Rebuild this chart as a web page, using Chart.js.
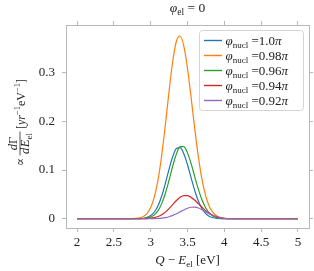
<!DOCTYPE html>
<html>
<head>
<meta charset="utf-8">
<script src="https://cdn.jsdelivr.net/npm/chart.js@4/dist/chart.umd.min.js"></script>
<style>
  html, body { margin: 0; padding: 0; background: #fff; overflow: hidden; }
  canvas { display: block; }
</style>
</head>
<body>
<canvas id="chart" width="314" height="271"></canvas>
<script>
// Q - E_el grid [eV]
const energies = [2.0, 2.6, 2.7, 2.75, 2.8, 2.85, 2.9, 2.95, 3.0, 3.05, 3.1, 3.15, 3.2, 3.25, 3.3, 3.35, 3.4, 3.45,
  3.5, 3.55, 3.6, 3.65, 3.7, 3.75, 3.8, 3.85, 3.9, 3.95, 4.0, 4.05, 4.1, 4.15, 4.2, 4.3, 5.0];

// dGamma/dE_el per phi_nucl
const rate100 = [0, 0, 0.00001, 0.00003, 0.0001, 0.0003, 0.0010, 0.0027, 0.0065, 0.0139, 0.0269, 0.0468, 0.0729, 0.1020,
  0.1280, 0.1442, 0.1459, 0.1336, 0.1110, 0.0836, 0.0571, 0.0354, 0.0199, 0.0101, 0.0047, 0.0020, 0.0008, 0.0003,
  0.0001, 0, 0, 0, 0, 0, 0];
const rate098 = [0, 0, 0.0001, 0.0002, 0.0006, 0.0018, 0.0046, 0.0107, 0.0230, 0.0450, 0.0802, 0.1305, 0.1937, 0.2623,
  0.3240, 0.3651, 0.3754, 0.3545, 0.3086, 0.2476, 0.1830, 0.1247, 0.0783, 0.0453, 0.0242, 0.0119, 0.0054, 0.0023,
  0.0009, 0.0003, 0.0001, 0, 0, 0, 0];
const rate096 = [0, 0, 0, 0.00001, 0.00004, 0.00015, 0.0005, 0.0014, 0.0035, 0.0080, 0.0167, 0.0311, 0.0523, 0.0793,
  0.1084, 0.1334, 0.1481, 0.1483, 0.1353, 0.1126, 0.0855, 0.0592, 0.0374, 0.0216, 0.0113, 0.0054, 0.0024, 0.00095,
  0.00035, 0.00012, 0.00004, 0, 0, 0, 0];
const rate094 = [0, 0, 0, 0.00001, 0.00002, 0.00006, 0.00017, 0.00045, 0.0011, 0.0023, 0.0045, 0.0082, 0.0136, 0.0208,
  0.0291, 0.0374, 0.0441, 0.0477, 0.0474, 0.0439, 0.0380, 0.0306, 0.0231, 0.0162, 0.0106, 0.0065, 0.0037, 0.0020,
  0.0010, 0.00045, 0.0002, 0.00008, 0.00003, 0, 0];
const rate092 = [0, 0, 0, 0, 0.00001, 0.00001, 0.00002, 0.00005, 0.00012, 0.00029, 0.00064, 0.0013, 0.0024, 0.0042,
  0.0069, 0.0102, 0.0142, 0.0181, 0.0215, 0.0236, 0.0239, 0.0221, 0.0185, 0.0141, 0.0097, 0.0061, 0.0035, 0.0018,
  0.0008, 0.00035, 0.00014, 0.00005, 0.00002, 0, 0];

const phiLabels = ['1.0', '0.98', '0.96', '0.94', '0.92'];
const xTicks = [2, 2.5, 3, 3.5, 4, 4.5, 5];
const yTicks = [0, 0.1, 0.2, 0.3];

const series = [rate100, rate098, rate096, rate094, rate092];
const colors = ['#1f77b4', '#ff7f0e', '#2ca02c', '#d62728', '#9467bd'];
const FONT = '"Liberation Serif", "DejaVu Serif", serif';
const FRAME = '#b8b8b8';
const INK = '#222';

function font(size, italic) {
  return (italic ? 'italic ' : '') + size + 'px ' + FONT;
}

// width of a list of text runs (sub/superscripts as separate runs)
function runsWidth(ctx, runs, base) {
  let w = 0;
  for (const r of runs) {
    ctx.font = font(r.s || base, r.i);
    w += ctx.measureText(r.t).width + (r.g || 0);
  }
  return w;
}

function drawRuns(ctx, x, y, runs, base) {
  for (const r of runs) {
    ctx.font = font(r.s || base, r.i);
    ctx.fillText(r.t, x, y + (r.dy || 0));
    x += ctx.measureText(r.t).width + (r.g || 0);
  }
  return x;
}

function drawCentered(ctx, cx, y, runs, base) {
  drawRuns(ctx, cx - runsWidth(ctx, runs, base) / 2, y, runs, base);
}

const mathText = {
  id: 'mathText',
  afterDraw(chart) {
    const ctx = chart.ctx;
    const area = chart.chartArea;
    const cx = (area.left + area.right) / 2;
    ctx.save();
    ctx.fillStyle = INK;
    ctx.textBaseline = 'alphabetic';
    ctx.textAlign = 'left';

    // title
    drawCentered(ctx, cx, 12, [{ t: '\u03c6', i: 1 }, { t: 'el', s: 9.5, dy: 3 }, { t: ' = 0' }], 13.5);

    // x label
    drawCentered(ctx, cx, 264, [{ t: 'Q', i: 1 }, { t: ' \u2212 ' }, { t: 'E', i: 1 }, { t: 'el', s: 9, dy: 3 }, { t: ' [eV]' }], 13);

    // y label, rotated; u runs upward along the axis, v to the right
    ctx.save();
    const midY = (area.top + area.bottom) / 2 - 4;
    ctx.translate(24.5, midY);
    ctx.rotate(-Math.PI / 2);
    const prop = [{ t: '\u221d' }];
    const num = [{ t: 'd', i: 1 }, { t: '\u0393' }];
    const den = [{ t: 'd', i: 1, g: 0.5 }, { t: 'E', i: 1 }, { t: 'el', s: 9, dy: 2.5 }];
    const unit = [{ t: '[' }, { t: 'yr', i: 1 }, { t: '\u22121', s: 8.5, dy: -5 }, { t: 'eV' }, { t: '\u22121', s: 8.5, dy: -5 }, { t: ']' }];
    const wp = runsWidth(ctx, prop, 12);
    const wn = runsWidth(ctx, num, 12.5);
    const wd = runsWidth(ctx, den, 12.5);
    const wf = Math.max(wn, wd) + 3;
    const wu = runsWidth(ctx, unit, 12);
    const gap = 2.5;
    let u = -(wp + gap + wf + gap + wu) / 2;
    drawRuns(ctx, u, -1, prop, 12);
    u += wp + gap;
    drawRuns(ctx, u + (wf - wn) / 2, -7.5, num, 12.5);
    drawRuns(ctx, u + (wf - wd) / 2, 4.5, den, 12.5);
    ctx.strokeStyle = INK;
    ctx.lineWidth = 0.8;
    ctx.beginPath();
    ctx.moveTo(u, -4.5);
    ctx.lineTo(u + wf, -4.5);
    ctx.stroke();
    u += wf + gap;
    drawRuns(ctx, u, 0, unit, 12);
    ctx.restore();

    // legend
    const lx = 199.5, ly = 30.5, lw = 104, lh = 80;
    ctx.beginPath();
    ctx.roundRect(lx, ly, lw, lh, 3);
    ctx.fillStyle = 'rgba(255,255,255,0.8)';
    ctx.fill();
    ctx.strokeStyle = '#d4d4d4';
    ctx.lineWidth = 1;
    ctx.stroke();
    phiLabels.forEach((lab, k) => {
      const yc = 40.5 + k * 15;
      ctx.strokeStyle = colors[k];
      ctx.lineWidth = 1.4;
      ctx.beginPath();
      ctx.moveTo(204, yc);
      ctx.lineTo(222, yc);
      ctx.stroke();
      ctx.fillStyle = INK;
      drawRuns(ctx, 225.5, yc + 4, [{ t: '\u03c6', i: 1 }, { t: 'nucl', s: 9, dy: 3 }, { t: ' =' + lab }, { t: '\u03c0', i: 1 }], 13);
    });
    ctx.restore();
  }
};

function axis(position, min, max, ticks, size, showLabels, pad) {
  return {
    type: 'linear',
    position: position,
    min: min,
    max: max,
    afterBuildTicks: s => { s.ticks = ticks.map(v => ({ value: v })); },
    afterFit: s => { if (s.isHorizontal()) s.height = size; else s.width = size; },
    grid: { display: true, drawOnChartArea: false, drawTicks: true, tickLength: 4, tickColor: FRAME, tickWidth: 1 },
    border: { display: true, color: FRAME, width: 1 },
    ticks: {
      display: showLabels, color: INK, padding: pad, autoSkip: false, maxRotation: 0,
      font: { family: FONT, size: 13 },
      callback: v => String(v)
    }
  };
}

const datasets = series.map((vals, k) => ({
  label: phiLabels[k],
  data: energies.map((e, i) => ({ x: e, y: vals[i] })),
  borderColor: colors[k],
  backgroundColor: colors[k],
  borderWidth: 1.2,
  pointRadius: 0,
  fill: false,
  cubicInterpolationMode: 'monotone',
  order: series.length - k   // later series on top, as in the original
}));

new Chart(document.getElementById('chart'), {
  type: 'line',
  data: { datasets: datasets },
  options: {
    responsive: false,
    animation: false,
    devicePixelRatio: 1,
    layout: { padding: 0 },
    plugins: { legend: { display: false }, tooltip: { enabled: false } },
    scales: {
      x: axis('bottom', 1.85, 5.15, xTicks, 43, true, 3),
      x2: Object.assign(axis('top', 1.85, 5.15, xTicks, 25, false, 0), { axis: 'x' }),
      y: axis('left', -0.019, 0.398, yTicks, 66, true, 7),
      y2: Object.assign(axis('right', -0.019, 0.398, yTicks, 5, false, 0), { axis: 'y' })
    }
  },
  plugins: [mathText]
});
</script>
</body>
</html>
